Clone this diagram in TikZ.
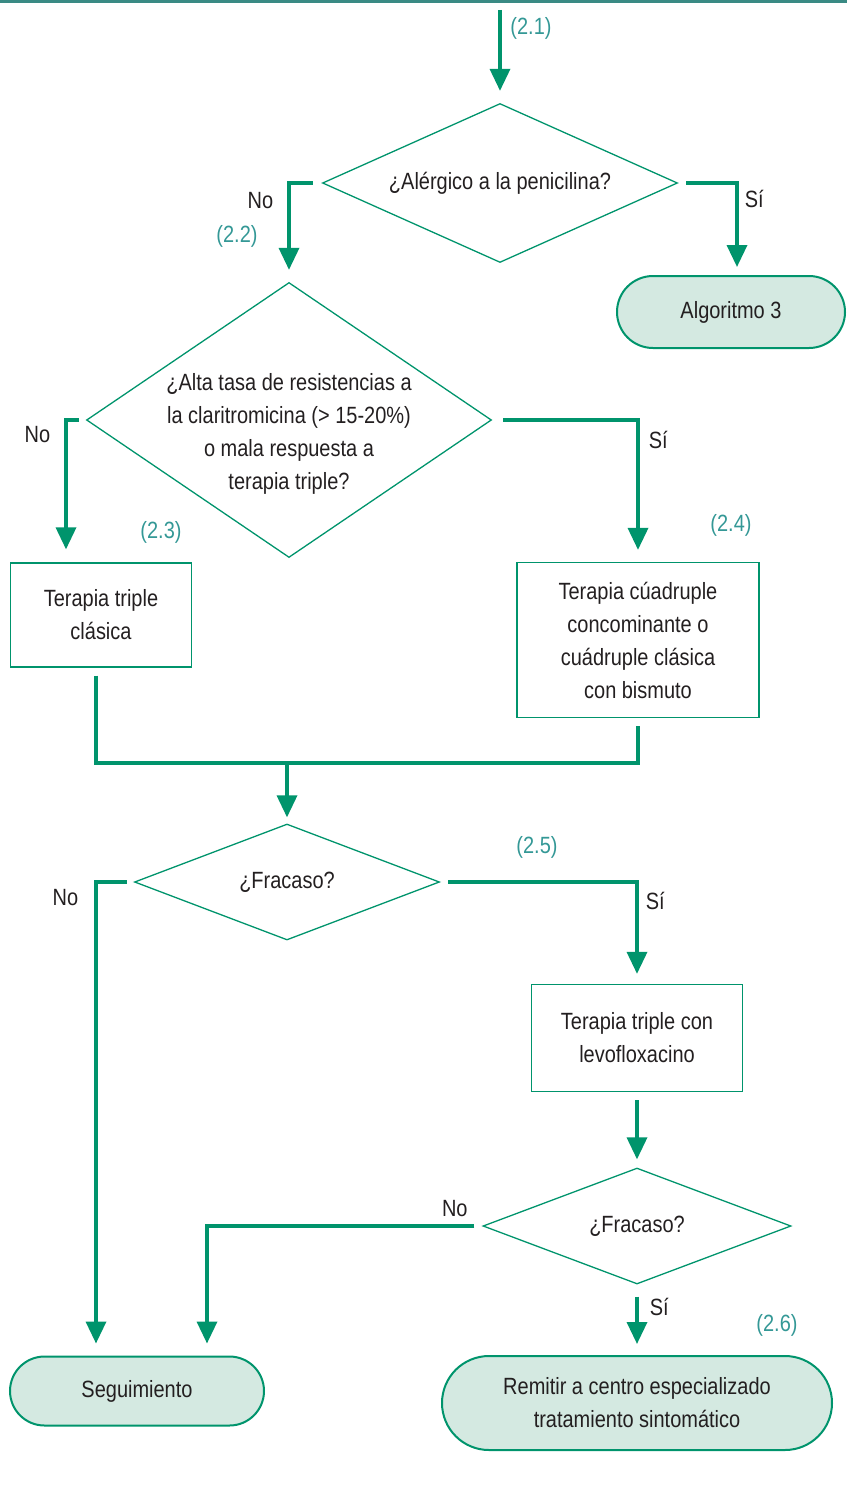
\documentclass[tikz,border=0pt]{standalone}
\usepackage{fontspec}
\setmainfont{Liberation Sans}[FakeStretch=0.85]
\usepackage{tikz}
\usetikzlibrary{arrows.meta,positioning,shapes.geometric,shapes.misc}
\definecolor{flow}{RGB}{0,148,108}
\definecolor{fillg}{RGB}{212,233,225}
\definecolor{numc}{RGB}{52,152,150}
\definecolor{topline}{RGB}{58,138,132}
\definecolor{txt}{RGB}{35,31,32}

\begin{document}
\begin{tikzpicture}[x=1pt,y=-1pt,
  every node/.style={font=\fontsize{23.5}{33}\selectfont,text=txt,align=center},
  dec/.style={diamond,draw=flow,line width=1.3pt,inner sep=0pt},
  box/.style={rectangle,draw=flow,line width=1.3pt,inner sep=0pt},
  term/.style={rounded rectangle,draw=flow,fill=fillg,line width=2pt,inner sep=0pt},
  num/.style={text=numc},
  lbl/.style={inner sep=0pt},
  flowline/.style={draw=flow,line width=3.5pt},
  >={Triangle[width=20pt,length=22pt]}]
\useasboundingbox (0,0) rectangle (847,1488);
\draw[topline,line width=3pt] (0,1.5) -- (847,1.5);

% nodes
\coordinate (start) at (500,10);
\node[dec,minimum width=355pt,minimum height=159pt,aspect=2.2] (d1) at (500,183) {¿Alérgico a la penicilina?};
\node[term,minimum width=228pt,minimum height=72pt] (alg) at (731,312) {Algoritmo 3};
\node[dec,minimum width=405pt,minimum height=275pt,
  label={[align=center,yshift=-14pt]center:{¿Alta tasa de resistencias a\\la claritromicina (> 15-20\%)\\o mala respuesta a\\terapia triple?}}]
  (d2) at (289,420) {};
\node[box,minimum width=181pt,minimum height=104pt] (tri) at (101,615) {Terapia triple\\clásica};
\node[box,minimum width=242pt,minimum height=155pt] (cuad) at (638,640)
  {Terapia cúadruple\\concominante o\\cuádruple clásica\\con bismuto};
\coordinate (join) at (287,763);
\node[dec,minimum width=305pt,minimum height=116pt,aspect=2.6] (f1) at (287,882) {¿Fracaso?};
\node[box,minimum width=211pt,minimum height=107pt] (levo) at (637,1038) {Terapia triple con\\levofloxacino};
\node[dec,minimum width=308pt,minimum height=116pt,aspect=2.6] (f2) at (637,1226) {¿Fracaso?};
\node[term,minimum width=254pt,minimum height=69pt] (seg) at (137,1391) {Seguimiento};
\node[term,minimum width=390pt,minimum height=94pt] (rem) at (637,1403)
  {Remitir a centro especializado\\tratamiento sintomático};

% step numbers
\node[num] (n21) at (531,28) {(2.1)};
\node[num] (n22) at (237,236) {(2.2)};
\node[num] (n23) at (161,532) {(2.3)};
\node[num] (n24) at (731,525) {(2.4)};
\node[num] (n25) at (537,847) {(2.5)};
\node[num] (n26) at (777,1325) {(2.6)};

% connectors
\draw[flowline,->,shorten >=12pt] (start) -- (d1.north);
\draw[flowline,->,shorten <=9pt,shorten >=12pt] (d1.west) -|
  node[lbl,anchor=north east,xshift=-14pt,yshift=-8pt] (no1) {No} (d2.north);
\draw[flowline,->,shorten <=8pt,shorten >=8pt] (d1.east) -|
  node[lbl,anchor=north west,xshift=6pt,yshift=-5pt] (si1) {Sí} ([xshift=6pt]alg.north);
\draw[flowline,->,shorten <=7pt,shorten >=13pt] (d2.west) -|
  node[lbl,anchor=north east,xshift=-14pt,yshift=-5pt] (no2) {No} ([xshift=-35pt]tri.north);
\draw[flowline,->,shorten <=11pt,shorten >=12pt] (d2.east) -|
  node[lbl,anchor=north west,xshift=9pt,yshift=-9pt] (si2) {Sí} (cuad.north);
\draw[flowline,shorten <=8pt,shorten >=8pt] ([xshift=-5pt]tri.south) |- (join) -| (cuad.south);
\draw[flowline,->,shorten >=6pt] (join) -- (f1.north);
\draw[flowline,->,shorten <=7pt,shorten >=12pt] (f1.west) -|
  node[lbl,anchor=north east,xshift=-16pt,yshift=-6pt] (no3) {No} ([xshift=-41pt]seg.north);
\draw[flowline,->,shorten <=8pt,shorten >=10pt] (f1.east) -|
  node[lbl,anchor=north west,xshift=7pt,yshift=-8pt] (si3) {Sí} (levo.north);
\draw[flowline,->,shorten <=8pt,shorten >=8pt] (levo.south) -- (f2.north);
\draw[flowline,->,shorten <=8pt,shorten >=12pt] (f2.west) -|
  node[lbl,pos=0.05,anchor=south,yshift=8pt] (no4) {No} ([xshift=70pt]seg.north);
\draw[flowline,->,shorten <=12pt,shorten >=11pt] (f2.south) --
  node[lbl,pos=0.32,anchor=west,xshift=11pt] (si4) {Sí} (rem.north);
\end{tikzpicture}
\end{document}
